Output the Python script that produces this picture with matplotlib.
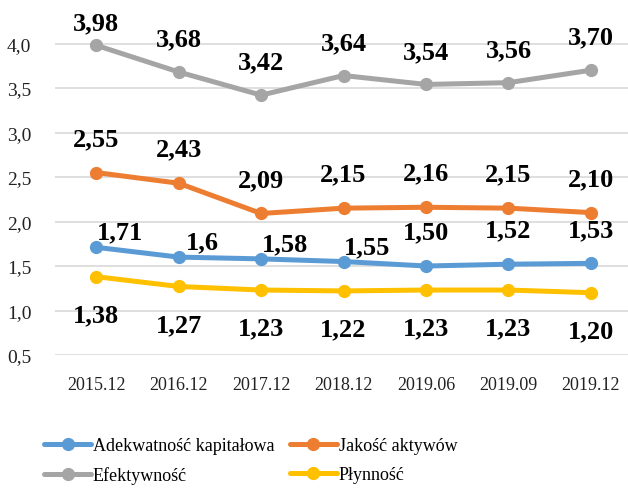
import numpy as np
import matplotlib
matplotlib.use("Agg")
import matplotlib.pyplot as plt

plt.rcParams['font.family'] = ['Liberation Serif', 'DejaVu Serif']

okresy = ["2015.12", "2016.12", "2017.12", "2018.12", "2019.06", "2019.09", "2019.12"]
adekwatnosc = [1.71, 1.60, 1.58, 1.55, 1.50, 1.52, 1.53]
jakosc = [2.55, 2.43, 2.09, 2.15, 2.16, 2.15, 2.10]
efektywnosc = [3.98, 3.68, 3.42, 3.64, 3.54, 3.56, 3.70]
plynnosc = [1.38, 1.27, 1.23, 1.22, 1.23, 1.23, 1.20]
etykiety_adekw = ["1,71", "1,6", "1,58", "1,55", "1,50", "1,52", "1,53"]

def fmt(v):
    return ("%.2f" % v).replace(".", ",")

fig = plt.figure(figsize=(6.28, 4.89), dpi=100)
ax = fig.add_axes([55/628, 133/489, 573/628, 356/489])

x = np.arange(len(okresy))
serie = [
    ("Adekwatność kapitałowa", adekwatnosc, "#5B9BD5"),
    ("Jakość aktywów", jakosc, "#ED7D31"),
    ("Efektywność", efektywnosc, "#A5A5A5"),
    ("Płynność", plynnosc, "#FFC000"),
]
linie = []
for nazwa, dane, kolor in serie:
    l, = ax.plot(x, dane, color=kolor, lw=3.6, marker="o", ms=8.5, label=nazwa,
                 solid_capstyle="round")
    linie.append(l)

lab = dict(fontsize=19, fontweight="bold", ha="center", va="center",
           textcoords="offset pixels")
for i in range(len(x)):
    dy = 22 if i == 0 else 33
    ax.annotate(fmt(efektywnosc[i]), (x[i], efektywnosc[i]), xytext=(0, dy), **lab)
    ax.annotate(fmt(jakosc[i]), (x[i], jakosc[i]), xytext=(0, 34), **lab)
    ax.annotate(fmt(plynnosc[i]), (x[i], plynnosc[i]), xytext=(0, -38), **lab)
    if i < 4:
        off = (24, 15)
    else:
        off = (0, 34)
    ax.annotate(etykiety_adekw[i], (x[i], adekwatnosc[i]), xytext=off, **lab)

ax.set_xlim(-0.5, 6.45)
ax.set_ylim(0.5, 4.5)
ax.set_yticks(np.arange(0.5, 4.01, 0.5))
ax.set_yticklabels([("%.1f" % v).replace(".", ",") for v in np.arange(0.5, 4.01, 0.5)])
ax.set_xticks(x)
ax.set_xticklabels(okresy)
ax.tick_params(labelsize=13, length=0, colors="#222222")
ax.tick_params(axis="y", labelsize=14, pad=17)
ax.tick_params(axis="x", pad=15)
ax.grid(axis="y", color="#D9D9D9", lw=1.2)
ax.set_axisbelow(True)
for s in ax.spines.values():
    s.set_visible(False)

# kolejnosc wierszami: Adekwatnosc, Jakosc / Efektywnosc, Plynnosc
kol = [linie[0], linie[2], linie[1], linie[3]]
fig.legend(kol, [l.get_label() for l in kol], loc="upper left",
           bbox_to_anchor=(28/628, 1 - 422/489), ncol=2,
           frameon=False, fontsize=13, handlelength=2.6, columnspacing=0.85,
           handletextpad=0.1, labelspacing=0.65)

fig.savefig("out.png", dpi=100)
